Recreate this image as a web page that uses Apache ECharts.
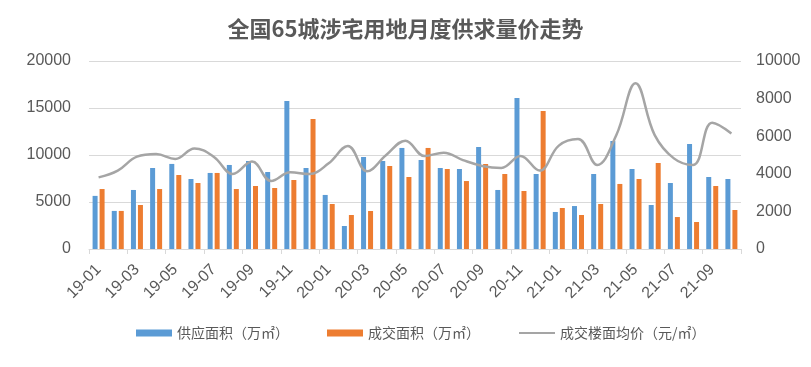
<!DOCTYPE html>
<html><head><meta charset="utf-8">
<script src="https://cdn.jsdelivr.net/npm/echarts@6/dist/echarts.min.js"></script>
<style>html,body{margin:0;padding:0;background:#fff}#c{width:811px;height:367px}</style>
</head><body><div id="c"></div>
<script>
const categories = ['19-01','19-02','19-03','19-04','19-05','19-06','19-07','19-08','19-09','19-10','19-11','19-12',
 '20-01','20-02','20-03','20-04','20-05','20-06','20-07','20-08','20-09','20-10','20-11','20-12',
 '21-01','21-02','21-03','21-04','21-05','21-06','21-07','21-08','21-09','21-10'];
const supplyArea = [5650,4050,6280,8620,9050,7450,8090,8940,9360,8190,15750,8620,
 5750,2450,9790,9360,10750,9470,8620,8510,10850,6280,16060,7980,
 3940,4570,7980,11490,8510,4680,7020,11170,7660,7450];
const dealArea = [6380,4050,4680,6380,7870,7020,8090,6380,6700,6490,7340,13830,
 4790,3620,4040,8830,7660,10750,8510,7230,9040,7980,6170,14680,
 4360,3620,4790,6920,7450,9150,3400,2870,6700,4150];
const avgPrice = [3810,4170,4910,5050,4790,5350,4910,3990,4650,3620,4080,3990,
 4560,5480,4130,5000,5760,4950,5120,4730,4420,4310,4950,4170,
 5500,5850,4470,6060,8810,6060,4820,4470,6720,6150];
const leftTicks = [0,5000,10000,15000,20000];
const rightTicks = [0,2000,4000,6000,8000,10000];

const txt = '#595959';
const chart = echarts.init(document.getElementById('c'));
chart.setOption({
  animation:false,
  title:{text:'全国65城涉宅用地月度供求量价走势',left:'center',top:13,
    textStyle:{fontFamily:'Noto Sans CJK SC',fontSize:22,fontWeight:'bold',color:txt}},
  legend:{bottom:22,left:131,itemWidth:36,itemHeight:7,itemGap:38,
    textStyle:{fontFamily:'Noto Sans CJK SC',fontSize:14,color:txt},
    data:[{name:'供应面积（万㎡）',icon:'rect'},{name:'成交面积（万㎡）',icon:'rect'},
          {name:'成交楼面均价（元/㎡）',itemStyle:{opacity:0}}]},
  grid:{left:89,right:70,top:61,bottom:118},
  xAxis:{type:'category',data:categories,boundaryGap:true,
    axisLine:{lineStyle:{color:'#D9D9D9'}},
    axisTick:{show:true,length:5,lineStyle:{color:'#D9D9D9'}},
    axisLabel:{rotate:45,interval:1,fontSize:16,color:txt,fontFamily:'Liberation Sans',margin:18}},
  yAxis:[
    {type:'value',min:leftTicks[0],max:leftTicks[leftTicks.length-1],interval:5000,
     axisLabel:{fontSize:16,color:txt,fontFamily:'Liberation Sans',margin:18,formatter:v=>String(v)},
     axisLine:{show:false},axisTick:{show:false},
     splitLine:{lineStyle:{color:'#D9D9D9'}}},
    {type:'value',min:rightTicks[0],max:rightTicks[rightTicks.length-1],interval:2000,
     axisLabel:{fontSize:16,color:txt,fontFamily:'Liberation Sans',margin:15,formatter:v=>String(v)},
     axisLine:{show:false},axisTick:{show:false},splitLine:{show:false}}
  ],
  series:[
    {name:'供应面积（万㎡）',type:'bar',data:supplyArea,barWidth:5,barGap:'40%',itemStyle:{color:'#5B9BD5'}},
    {name:'成交面积（万㎡）',type:'bar',data:dealArea,barWidth:5,barGap:'40%',itemStyle:{color:'#ED7D31'}},
    {name:'成交楼面均价（元/㎡）',type:'line',yAxisIndex:1,data:avgPrice,smooth:0.4,symbol:'none',
     lineStyle:{color:'#A5A5A5',width:2.5},itemStyle:{color:'#A5A5A5'}}
  ]
});
</script></body></html>
